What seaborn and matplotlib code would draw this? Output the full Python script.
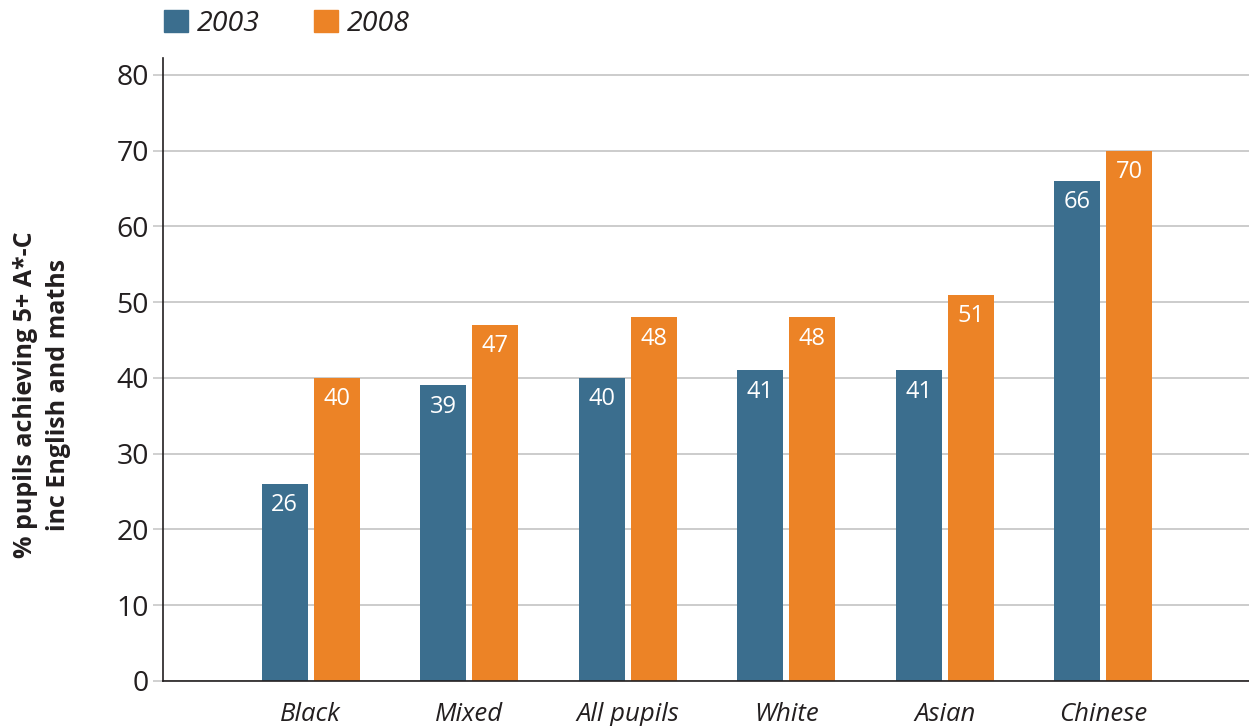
#!/usr/bin/env python3
"""
GCSE attainment by ethnic group, 2003 vs 2008
Run: python plot.py
"""

import pandas as pd
import matplotlib.pyplot as plt
import seaborn as sns

# Data
groups = ['Black', 'Mixed', 'All pupils', 'White', 'Asian', 'Chinese']
years = ['2003', '2008']
pct_2003 = [26, 39, 40, 41, 41, 66]
pct_2008 = [40, 47, 48, 48, 51, 70]
y_ticks = [0, 10, 20, 30, 40, 50, 60, 70, 80]

BLUE = '#3b6e8e'
ORANGE = '#ec8326'
TEXT = '#231f20'


def main():
    df = pd.DataFrame({
        'group': groups * 2,
        'year': [years[0]] * len(groups) + [years[1]] * len(groups),
        'pct': pct_2003 + pct_2008,
    })

    sns.set_theme(style='white')
    plt.rcParams['font.family'] = ['Open Sans', 'DejaVu Sans']

    fig = plt.figure(figsize=(12.49, 7.26), dpi=100)
    ax = fig.add_axes([0.1305, 0.062, 0.8695, 0.858])

    sns.barplot(data=df, x='group', y='pct', hue='year', order=groups,
                hue_order=years, palette=[BLUE, ORANGE], width=0.654,
                gap=0.116, saturation=1, errorbar=None, legend=False,
                linewidth=0, ax=ax)

    # value labels inside bars
    for cont in ax.containers:
        ax.bar_label(cont, fmt='%d', padding=-24, color='white', fontsize=17)

    ax.set_xlim(-0.932, 5.92)
    ax.set_ylim(0, 82.2)
    ax.set_yticks(y_ticks)
    ax.yaxis.grid(True, color='#c8c8c8', linewidth=1.3)
    ax.set_axisbelow(True)

    for side in ['top', 'right']:
        ax.spines[side].set_visible(False)
    for side in ['left', 'bottom']:
        ax.spines[side].set_color(TEXT)
        ax.spines[side].set_linewidth(1.2)

    ax.tick_params(axis='y', left=True, length=7, width=1.2, color='#c8c8c8',
                   labelsize=20.5, labelcolor=TEXT, pad=3)
    ax.tick_params(axis='x', bottom=False, labelsize=18.5, labelcolor=TEXT, pad=9)
    for lbl in ax.get_xticklabels():
        lbl.set_style('italic')

    ax.set_xlabel('')
    ax.set_ylabel('% pupils achieving 5+ A*-C\ninc English and maths',
                  fontsize=18, fontweight='bold', color=TEXT, linespacing=1.4)
    ax.yaxis.set_label_coords(-0.085, 0.46)

    # legend
    handles = [plt.Rectangle((0, 0), 1, 1, color=c) for c in [BLUE, ORANGE]]
    leg = fig.legend(handles, years, loc='upper left',
                     bbox_to_anchor=(0.111, 1.022), ncol=2, frameon=False,
                     handlelength=0.85, handleheight=0.85, handletextpad=0.3,
                     columnspacing=1.9, prop={'size': 20.5, 'style': 'italic'})
    for t in leg.get_texts():
        t.set_color(TEXT)

    fig.savefig('out.png', dpi=100)
    plt.close(fig)


if __name__ == "__main__":
    main()
